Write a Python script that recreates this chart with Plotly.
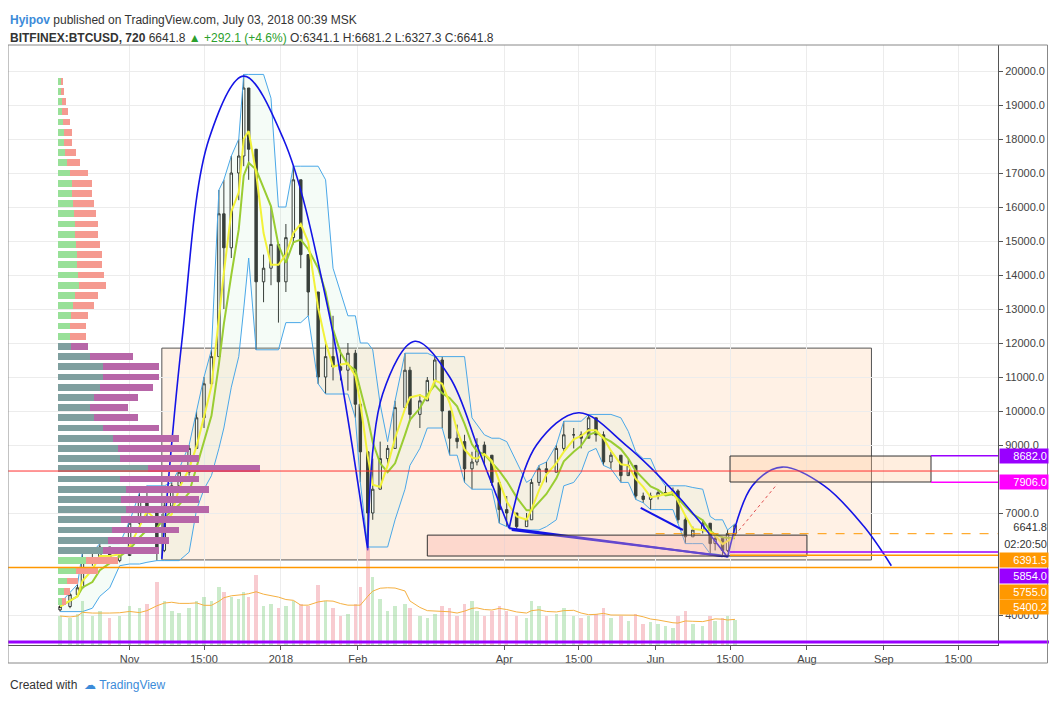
import pandas as pd
import plotly.graph_objects as go

# ---- candle data (approx. 3-day sampling of BITFINEX:BTCUSD) ----
dates = ["2017-10-04", "2017-10-08", "2017-10-11", "2017-10-13", "2017-10-17", "2017-10-20", "2017-10-24",
         "2017-10-28", "2017-11-01", "2017-11-05", "2017-11-08", "2017-11-12", "2017-11-15", "2017-11-18",
         "2017-11-21", "2017-11-25", "2017-11-28", "2017-12-01", "2017-12-04", "2017-12-07", "2017-12-09",
         "2017-12-12", "2017-12-15", "2017-12-17", "2017-12-19", "2017-12-22", "2017-12-25", "2017-12-28",
         "2017-12-31", "2018-01-03", "2018-01-06", "2018-01-09", "2018-01-12", "2018-01-16", "2018-01-19",
         "2018-01-22", "2018-01-25", "2018-01-28", "2018-01-31", "2018-02-02", "2018-02-05", "2018-02-07",
         "2018-02-10", "2018-02-13", "2018-02-16", "2018-02-20", "2018-02-22", "2018-02-26", "2018-03-01",
         "2018-03-04", "2018-03-07", "2018-03-10", "2018-03-13", "2018-03-16", "2018-03-19", "2018-03-21",
         "2018-03-24", "2018-03-27", "2018-03-30", "2018-04-02", "2018-04-06", "2018-04-10", "2018-04-12",
         "2018-04-15", "2018-04-18", "2018-04-22", "2018-04-25", "2018-04-29", "2018-05-02", "2018-05-05",
         "2018-05-08", "2018-05-11", "2018-05-14", "2018-05-18", "2018-05-21", "2018-05-24", "2018-05-27",
         "2018-05-30", "2018-06-02", "2018-06-05", "2018-06-08", "2018-06-10", "2018-06-13", "2018-06-16",
         "2018-06-20", "2018-06-23", "2018-06-25", "2018-06-28", "2018-06-30", "2018-07-03"]
closes = [4250, 4600, 4800, 5600, 5600, 6000, 5600, 5750, 6700, 7350, 7100, 5900, 7200, 7800, 8200, 8900,
          9800, 10800, 11600, 15800, 14800, 17000, 17500, 19500, 17700, 13800, 14200, 14900, 13800, 15100,
          16800, 14600, 13500, 11000, 11600, 11300, 11200, 11700, 10200, 8800, 7000, 7700, 8600, 8900, 10100,
          11200, 9900, 10300, 10900, 11500, 10000, 9200, 9100, 8300, 8500, 9000, 8700, 7900, 7100, 7000, 6600,
          6800, 7900, 8300, 8200, 8900, 9300, 9300, 9200, 9800, 9300, 8500, 8700, 8100, 8400, 7500, 7400,
          7500, 7600, 7600, 7650, 6800, 6300, 6500, 6700, 6100, 6250, 5900, 6400, 6641.8]
highs = [4350, 4650, 4900, 5850, 5800, 6100, 6000, 5900, 6750, 7600, 7800, 6800, 7300, 7900, 8300, 9000,
         10000, 11000, 11800, 16500, 16800, 17500, 18000, 19900, 19200, 16000, 14600, 16000, 14900, 15500,
         17200, 16800, 14200, 13500, 12000, 12800, 11800, 12000, 11800, 10200, 8800, 8600, 9100, 9000, 10300,
         11700, 11300, 10500, 11000, 11600, 11600, 9800, 9600, 9300, 8800, 9200, 9100, 8500, 7900, 7500, 6900,
         7000, 8000, 8400, 8500, 9000, 9700, 9500, 9400, 9900, 9800, 9400, 8800, 8500, 8600, 8100, 7600,
         7600, 7700, 7800, 7750, 7700, 6900, 6600, 6800, 6300, 6400, 6200, 6500, 6681.2]
lows = [4100, 4200, 4550, 4800, 5450, 5550, 5500, 5550, 5800, 6650, 6900, 5600, 5850, 7100, 7700, 8100,
        8900, 9500, 10700, 11600, 13000, 14500, 16200, 17200, 16800, 11800, 13200, 13700, 12600, 13500,
        14900, 14200, 12800, 10800, 10500, 10900, 10900, 10600, 9800, 7900, 6000, 6800, 7700, 8400, 8900,
        10100, 9700, 9500, 10300, 10800, 9500, 8700, 8900, 7900, 7700, 8400, 8400, 7800, 6700, 6600, 6500,
        6600, 6800, 7800, 7900, 8200, 8800, 8900, 8900, 9500, 9100, 8400, 8300, 7900, 8200, 7400, 7300,
        7100, 7400, 7500, 7500, 6700, 6100, 6300, 6400, 5800, 5900, 5750, 5850, 6327.3]
volumes = [30, 28, 32, 45, 30, 35, 28, 30, 40, 38, 42, 65, 45, 35, 33, 38, 45, 50, 45, 60, 55, 50, 48, 55,
           50, 72, 40, 42, 38, 40, 45, 42, 40, 62, 45, 38, 30, 32, 42, 60, 100, 70, 48, 35, 40, 42, 38, 30,
           28, 32, 40, 38, 30, 42, 45, 35, 30, 35, 40, 35, 30, 28, 45, 40, 30, 32, 38, 30, 28, 30, 32, 38, 28,
           30, 25, 32, 22, 24, 22, 20, 18, 30, 35, 22, 20, 30, 25, 28, 30, 26]

# ---- volume profile (left) ----
prof_levels = [19700, 19400, 19100, 18800, 18500, 18200, 17900, 17600, 17300, 17000, 16700, 16400, 16100,
               15800, 15500, 15200, 14900, 14600, 14300, 14000, 13700, 13400, 13100, 12800, 12500, 12200,
               11900, 11600, 11300, 11000, 10700, 10400, 10100, 9800, 9500, 9200, 8900, 8600, 8300, 8000,
               7700, 7400, 7100, 6800, 6500, 6200, 5900, 5600, 5300, 5000, 4700, 4400]
prof_up = [3, 3, 4, 4, 5, 6, 6, 7, 9, 12, 14, 14, 15, 16, 17, 17, 18, 19, 19, 20, 21, 17, 15, 13, 12, 12,
           13, 32, 45, 45, 42, 36, 32, 36, 45, 55, 60, 62, 90, 62, 68, 63, 68, 63, 54, 50, 45, 28, 18, 9, 6, 4]
prof_down = [2, 3, 4, 6, 7, 8, 8, 11, 13, 18, 20, 20, 21, 22, 23, 23, 24, 25, 25, 26, 27, 23, 21, 17, 16,
             16, 17, 43, 55, 55, 53, 44, 38, 44, 55, 65, 70, 78, 110, 78, 82, 77, 82, 77, 66, 60, 55, 32, 22,
             11, 6, 4]
value_area = (5800, 11900)

# ---- tick labels ----
x_tickvals = ["2017-11-01", "2017-12-01", "2018-01-01", "2018-02-01", "2018-04-01", "2018-05-01",
              "2018-06-01", "2018-07-01", "2018-08-01", "2018-09-01", "2018-10-01"]
x_ticktext = ["Nov", "15:00", "2018", "Feb", "Apr", "15:00", "Jun", "15:00", "Aug", "Sep", "15:00"]
y_tickvals = [20000, 19000, 18000, 17000, 16000, 15000, 14000, 13000, 12000, 11000, 10000, 9000, 7000, 4000]

df = pd.DataFrame({"date": pd.to_datetime(dates), "close": closes, "high": highs, "low": lows, "vol": volumes})
df["open"] = df["close"].shift(1).fillna(df["close"].iloc[0] - 100)
df["ma_fast"] = df["close"].rolling(3, min_periods=1).mean()
df["ma_mid"] = df["close"].rolling(5, min_periods=1).mean()
df["band_hi"] = df["high"].rolling(4, min_periods=1).max()
df["band_lo"] = df["low"].rolling(4, min_periods=1).min()
df["vol_ma"] = df["vol"].rolling(6, min_periods=1).mean()
up = df["close"] >= df["open"]

fig = go.Figure()

# volume profile on its own x axis
in_va = [value_area[0] <= p <= value_area[1] for p in prof_levels]
fig.add_trace(go.Bar(y=prof_levels, x=prof_up, orientation="h", xaxis="x2", yaxis="y",
                     marker_color=["#7f9f9f" if v else "#98e098" for v in in_va],
                     marker_line_width=0, width=200, showlegend=False, hoverinfo="skip"))
fig.add_trace(go.Bar(y=prof_levels, x=prof_down, orientation="h", xaxis="x2", yaxis="y",
                     marker_color=["#b766a8" if v else "#f59a90" for v in in_va],
                     marker_line_width=0, width=200, showlegend=False, hoverinfo="skip"))

# volume bars at the bottom
fig.add_trace(go.Bar(x=df["date"], y=df["vol"], yaxis="y2",
                     marker_color=["rgba(140,210,140,0.45)" if u else "rgba(240,140,150,0.45)" for u in up],
                     marker_line_width=0, showlegend=False, hoverinfo="skip"))
fig.add_trace(go.Scatter(x=df["date"], y=df["vol_ma"], yaxis="y2", mode="lines",
                         line=dict(color="#f5b041", width=1), showlegend=False))

# indicator bands
fig.add_trace(go.Scatter(x=df["date"], y=df["band_hi"], mode="lines", line=dict(color="#4aa8e8", width=1),
                         showlegend=False))
fig.add_trace(go.Scatter(x=df["date"], y=df["band_lo"], mode="lines", line=dict(color="#4aa8e8", width=1),
                         fill="tonexty", fillcolor="rgba(190,235,200,0.15)", showlegend=False))
fig.add_trace(go.Scatter(x=df["date"], y=df["ma_mid"], mode="lines", line=dict(color="#9acd32", width=2),
                         showlegend=False))
fig.add_trace(go.Scatter(x=df["date"], y=df["ma_fast"], mode="lines", line=dict(color="#f2f23a", width=2),
                         showlegend=False))

fig.add_trace(go.Candlestick(x=df["date"], open=df["open"], high=df["high"], low=df["low"], close=df["close"],
                             increasing=dict(line=dict(color="#222", width=1), fillcolor="#ffffff"),
                             decreasing=dict(line=dict(color="#222", width=1), fillcolor="#222"),
                             whiskerwidth=0, showlegend=False))

# hand-drawn arcs (control points)
arcs = [
    (["2017-11-14", "2017-11-22", "2017-12-03", "2017-12-17", "2018-01-02", "2018-01-20", "2018-02-05"],
     [5650, 12000, 18000, 19850, 18000, 13000, 5900]),
    (["2018-02-05", "2018-02-11", "2018-02-24", "2018-03-10", "2018-03-22", "2018-04-03"],
     [5950, 10500, 12050, 11000, 8800, 6550]),
    (["2018-04-03", "2018-04-14", "2018-05-01", "2018-05-20", "2018-06-10", "2018-06-30"],
     [6550, 9000, 9950, 9000, 7500, 5700]),
    (["2018-06-30", "2018-07-10", "2018-07-22", "2018-08-08", "2018-08-24", "2018-09-04"],
     [5700, 7800, 8350, 7800, 6600, 5450]),
]
for ax, ay in arcs:
    fig.add_trace(go.Scatter(x=ax, y=ay, mode="lines", line=dict(color="#1414e6", width=1.6, shape="spline"),
                             showlegend=False, hoverinfo="skip"))
trend_x = [["2018-04-03", "2018-06-28"], ["2018-04-04", "2018-06-30"], ["2018-05-26", "2018-06-12"]]
trend_y = [[6550, 5730], [6500, 5720], [7150, 6500]]
for tx, ty in zip(trend_x, trend_y):
    fig.add_trace(go.Scatter(x=tx, y=ty, mode="lines", line=dict(color="#1414e6", width=2),
                             showlegend=False, hoverinfo="skip"))
fig.add_trace(go.Scatter(x=["2018-07-03", "2018-07-20"], y=[6350, 7850], mode="lines",
                         line=dict(color="#e05050", width=1, dash="dot"), showlegend=False, hoverinfo="skip"))

shapes = [
    dict(type="rect", x0="2017-11-14", x1="2018-08-27", y0=5620, y1=11850, line=dict(color="#555", width=1),
         fillcolor="rgba(255,200,150,0.25)", layer="below"),
    dict(type="rect", x0="2018-03-01", x1="2018-08-01", y0=5735, y1=6350, line=dict(color="#333", width=1),
         fillcolor="rgba(250,170,160,0.35)"),
    dict(type="rect", x0="2018-07-01", x1="2018-09-20", y0=7912, y1=8676, line=dict(color="#333", width=1),
         fillcolor="rgba(255,200,150,0.3)"),
    dict(type="line", xref="paper", x0=0, x1=1, y0=8235, y1=8235, line=dict(color="#ff3030", width=1)),
    dict(type="line", xref="paper", x0=0, x1=1, y0=5400.2, y1=5400.2, line=dict(color="#ff9800", width=1.5)),
    dict(type="line", x0="2018-07-01", x1="2018-10-17", y0=5854, y1=5854, line=dict(color="#9900ff", width=1.5)),
    dict(type="line", x0="2018-07-01", x1="2018-10-17", y0=5755, y1=5755, line=dict(color="#ff9800", width=1.5)),
    dict(type="line", x0="2018-06-01", x1="2018-10-17", y0=6391.5, y1=6391.5,
         line=dict(color="#ff9800", width=1, dash="dash")),
    dict(type="line", x0="2018-09-20", x1="2018-10-17", y0=8682, y1=8682, line=dict(color="#9900ff", width=1.5)),
    dict(type="line", x0="2018-09-20", x1="2018-10-17", y0=7906, y1=7906, line=dict(color="#ff00ff", width=1.5)),
    dict(type="line", xref="paper", yref="paper", x0=0, x1=1.055, y0=0.005, y1=0.005,
         line=dict(color="#9900ff", width=3)),
    dict(type="rect", xref="paper", yref="paper", x0=0, x1=1.05, y0=-0.03, y1=1.0,
         line=dict(color="#888", width=1)),
]

# right price labels
labels = [("8682.0", 8682, "#9900ff", "white"), ("7906.0", 7906, "#ff00ff", "white"),
          ("6641.8", 6590, "rgba(0,0,0,0)", "#333"), ("02:20:50", 6100, "rgba(0,0,0,0)", "#333"),
          ("6391.5", 5630, "#ff9800", "white"), ("5854.0", 5150, "#9900ff", "white"),
          ("5755.0", 4680, "#ff9800", "white"), ("5400.2", 4250, "#ff9800", "white")]
annotations = [dict(x=1.0, xref="paper", y=ly, yref="y", text=lt, showarrow=False, xanchor="left",
                    xshift=1, bgcolor=bg, font=dict(color=fc, size=11), borderpad=1, width=46, align="right")
               for lt, ly, bg, fc in labels]
annotations += [
    dict(x=0, y=1.0, xref="paper", yref="paper", yanchor="bottom", xanchor="left", yshift=16,
         showarrow=False, align="left", font=dict(size=12, color="#333"),
         text="<b><span style='color:#3c8bd9'>Hyipov</span></b> published on TradingView.com, July 03, 2018 00:39 MSK"),
    dict(x=0, y=1.0, xref="paper", yref="paper", yanchor="bottom", xanchor="left", yshift=-2,
         showarrow=False, align="left", font=dict(size=12, color="#333"),
         text="<b>BITFINEX:BTCUSD, 720</b> 6641.8 <span style='color:#2ca02c'>▲ +292.1 (+4.6%)</span> "
              "O:6341.1 H:6681.2 L:6327.3 C:6641.8"),
    dict(x=0, y=0, xref="paper", yref="paper", yanchor="top", xanchor="left", yshift=-31,
         showarrow=False, font=dict(size=12, color="#333"),
         text="Created with  <span style='color:#3c8bd9'>☁ TradingView</span>"),
]

fig.update_layout(
    width=1049, height=694, margin=dict(l=0, r=59, t=37, b=57, autoexpand=False),
    paper_bgcolor="white", plot_bgcolor="white",
    font=dict(family="Liberation Sans, Arial, sans-serif", size=11, color="#444"),
    barmode="stack", bargap=0.3, showlegend=False, shapes=shapes, annotations=annotations,
    xaxis=dict(type="date", range=["2017-09-13", "2018-10-17"], tickvals=x_tickvals, ticktext=x_ticktext,
               showgrid=True, gridcolor="#ececec", rangeslider=dict(visible=False), ticks="outside",
               ticklen=4, tickcolor="#555", showline=True, linecolor="#555", zeroline=False),
    xaxis2=dict(overlaying="x", range=[-49, 931], visible=False),
    yaxis=dict(range=[3118, 20765], side="right", tickvals=y_tickvals, tickformat=".1f", showgrid=True,
               gridcolor="#ececec", ticks="outside", ticklen=4, tickcolor="#555", showline=True,
               linecolor="#555", zeroline=False, tickfont=dict(size=11)),
    yaxis2=dict(overlaying="y", range=[0, 620], visible=False),
)

fig.write_html("out.html")
